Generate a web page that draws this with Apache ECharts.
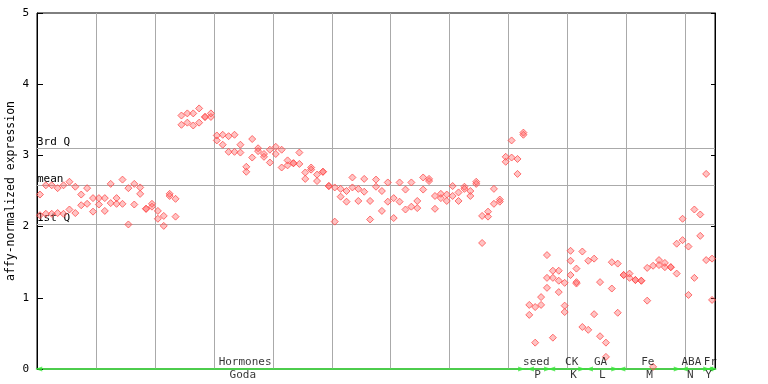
<!DOCTYPE html>
<html>
<head>
<meta charset="utf-8">
<script src="https://cdn.jsdelivr.net/npm/echarts@6/dist/echarts.min.js"></script>
<style>html,body{margin:0;padding:0;background:#fff;}#c{width:768px;height:384px;}</style>
</head>
<body>
<div id="c"></div>
<script>
// replicate values per sample (index 0..114), null = no point
var rep1 = [2.45,2.58,2.58,2.54,2.58,2.63,2.56,2.45,2.54,2.40,
            2.40,2.40,2.60,2.40,2.66,2.54,2.60,2.55,2.25,2.32,
            2.22,2.15,2.46,2.39,3.56,3.59,3.59,3.66,3.54,3.59,
            3.28,3.29,3.27,3.29,3.15,2.84,3.23,3.10,3.02,3.08,
            3.12,3.08,2.93,2.89,3.04,2.76,2.83,2.73,2.77,2.57,
            2.55,2.53,2.50,2.69,2.53,2.67,2.36,2.66,2.50,2.62,
            2.40,2.62,2.52,2.62,2.36,2.69,2.67,2.43,2.46,2.45,
            2.57,2.48,2.56,2.50,2.63,2.15,2.21,2.53,2.38,2.98,
            3.21,2.95,3.32,0.90,0.87,1.01,1.60,1.38,1.38,1.21,
            1.66,1.41,1.65,1.52,1.55,1.22,0.37,1.50,1.48,1.32,
            1.34,1.25,1.24,1.42,1.45,1.53,1.49,1.43,1.76,2.11,
            1.72,2.24,2.17,2.74,1.55];
var rep2 = [2.16,2.18,2.18,2.19,2.18,2.24,2.19,2.30,2.32,2.21,
            2.31,2.22,2.33,2.32,2.32,2.03,2.31,2.46,2.25,2.28,
            2.11,2.01,2.43,2.14,3.43,3.46,3.42,3.46,3.54,3.54,
            3.21,3.15,3.05,3.05,3.04,2.77,2.97,3.06,2.98,2.90,
            3.02,2.83,2.86,2.89,2.88,2.67,2.80,2.64,2.77,2.57,
            2.07,2.42,2.35,2.55,2.36,2.49,2.10,2.56,2.22,2.35,
            2.12,2.35,2.24,2.28,2.26,2.52,2.64,2.25,2.40,2.36,
            2.43,2.36,2.53,2.43,2.60,1.77,2.14,2.32,2.35,2.91,
            2.97,2.74,3.29,0.76,0.37,0.90,1.28,1.28,1.24,0.89,
            1.52,1.22,0.59,0.55,0.77,0.46,0.17,1.13,0.79,1.32,
            1.28,1.25,1.24,0.96,0.03,1.46,1.43,1.43,1.34,1.81,
            1.04,1.28,1.87,1.53,0.97];
var rep3Index = [86, 87, 88, 89, 90, 91];
var rep3 = [1.14, 0.44, 1.08, 0.80, 1.32, 1.20];

var quartileNames = ['3rd Q', 'mean', '1st Q'];
var quartileValues = [3.095, 2.58, 2.03];

var groupTop = ['Hormones', 'seed', 'CK', 'GA', 'Fe', 'ABA', 'Fr'];
var groupBottom = ['Goda', 'P', 'K', 'L', 'M', 'N', 'Y'];
var groupTopPos = [35.3, 84.7, 90.7, 95.6, 103.6, 111.0, 114.2];
var groupBottomPos = [34.9, 84.9, 91.0, 95.9, 103.9, 110.8, 113.9];
var arrowStarts = [0.3, 83.7, 87.3, 93.7, 99.2, 109.8, 114.1];
var arrowEnds = [82.2, 86.6, 92.4, 98.0, 108.6, 113.6, 114.8];

var FONT = 'DejaVu Sans Mono';
var pts = [];
rep1.forEach(function (v, i) { if (v != null) pts.push([i + 0.5, v]); });
rep2.forEach(function (v, i) { if (v != null) pts.push([i + 0.5, v]); });
rep3.forEach(function (v, k) { pts.push([rep3Index[k] + 0.5, v]); });

var arrowPts = [];
arrowStarts.forEach(function (x) { arrowPts.push({value: [x, 0], symbolRotate: 90}); });
arrowEnds.forEach(function (x) { arrowPts.push({value: [x, 0], symbolRotate: -90}); });

var chart = echarts.init(document.getElementById('c'), null, {renderer: 'canvas'});
chart.setOption({
  animation: false,
  backgroundColor: '#fff',
  grid: {left: 37, right: 53, top: 13, bottom: 15, show: true, borderColor: '#000', borderWidth: 1,
         containLabel: false, outerBoundsMode: 'none'},
  xAxis: {
    type: 'value', min: 0, max: 115, interval: 10,
    axisLine: {show: true, onZero: false, lineStyle: {color: '#3ce63c', width: 1.5}},
    axisTick: {show: false}, axisLabel: {show: false},
    splitLine: {show: true, lineStyle: {color: '#aaaaaa', width: 1}}
  },
  yAxis: [{
    type: 'value', min: 0, max: 5, interval: 1, position: 'left',
    name: 'affy-normalized expression', nameLocation: 'middle', nameRotate: 90, nameGap: 20,
    nameMoveOverlap: false,
    nameTextStyle: {fontFamily: FONT, fontSize: 11.5, color: '#000'},
    axisLine: {show: true, lineStyle: {color: '#000'}},
    axisTick: {show: true, inside: true, length: 6, lineStyle: {color: '#000'}},
    axisLabel: {fontFamily: FONT, fontSize: 11, color: '#000', margin: 8},
    splitLine: {show: false}
  }, {
    type: 'value', min: 0, max: 5, interval: 1, position: 'right',
    axisLine: {show: true, lineStyle: {color: '#000'}},
    axisTick: {show: true, inside: true, length: 4, lineStyle: {color: '#000'}},
    axisLabel: {show: false}, splitLine: {show: false}
  }],
  series: [{
    type: 'scatter', data: pts, symbol: 'diamond', symbolSize: 7,
    itemStyle: {color: 'rgba(255,90,90,0.45)', borderColor: '#ff4d4d', borderWidth: 1},
    z: 5,
    markLine: {
      silent: true, symbol: 'none', animation: false,
      lineStyle: {color: '#aaaaaa', width: 1, type: 'solid'},
      label: {show: true, position: 'insideStartTop', formatter: '{b}', fontFamily: FONT, fontSize: 11, color: '#000', distance: [0, 1]},
      data: quartileNames.map(function (n, k) { return {name: n, yAxis: quartileValues[k]}; })
    }
  }, {
    type: 'scatter', data: arrowPts, symbol: 'triangle', symbolSize: [5, 7],
    itemStyle: {color: '#3ce63c'}, z: 6, clip: false, silent: true
  }, {
    type: 'scatter', symbolSize: 0, clip: false, silent: true, z: 7,
    data: groupTop.map(function (t, k) { return {name: t, value: [groupTopPos[k], 0]}; }),
    label: {show: true, position: 'top', distance: 1, formatter: '{b}', fontFamily: FONT, fontSize: 11, color: '#000'}
  }, {
    type: 'scatter', symbolSize: 0, clip: false, silent: true, z: 7,
    data: groupBottom.map(function (t, k) { return {name: t, value: [groupBottomPos[k], 0]}; }),
    label: {show: true, position: 'bottom', distance: 1, formatter: '{b}', fontFamily: FONT, fontSize: 11, color: '#000'}
  }]
});
</script>
</body>
</html>
